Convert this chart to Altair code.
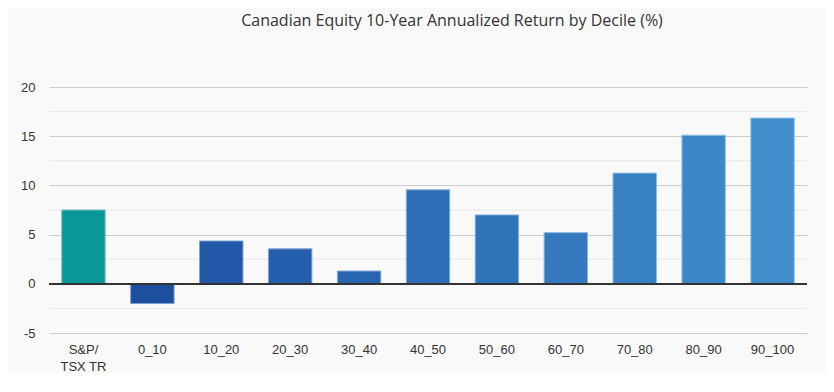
import altair as alt
import pandas as pd

categories = ["S&P/\nTSX TR", "0_10", "10_20", "20_30", "30_40", "40_50",
              "50_60", "60_70", "70_80", "80_90", "90_100"]
returns = [7.5, -2.0, 4.35, 3.55, 1.3, 9.55, 7.0, 5.2, 11.25, 15.1, 16.85]
major_ticks = [-5, 0, 5, 10, 15, 20]
minor_ticks = [-2.5, 2.5, 7.5, 12.5, 17.5]

fill_colors = ["#0a9896", "#1d4f9f", "#2157a6", "#245ead", "#2765b0", "#2c6db5",
               "#3074b9", "#3479bd", "#3780c2", "#3b87c7", "#418dcb"]
stroke_colors = ["#72c0be", "#7d9dcc", "#7fa1d0", "#80a5d2", "#82a9d5", "#86afd8",
                 "#88b3da", "#8ab6dc", "#8dbae0", "#90bfe2", "#93c3e5"]

df = pd.DataFrame({"category": categories, "value": returns})
minor_df = pd.DataFrame({"tick": minor_ticks})

y_scale = alt.Scale(domain=[-5, 20], nice=False, zero=False)
y_axis = alt.Axis(title=None, values=major_ticks,
                  labelExpr="replace(datum.label, '\u2212', '-')",
                  labelFont="Liberation Sans", labelFontSize=13, labelColor="#333333",
                  labelPadding=14, ticks=False, domain=False,
                  gridColor="#cccccc", gridWidth=1)

minor = alt.Chart(minor_df).mark_rule(color="#e6e6e6", strokeWidth=1).encode(
    y=alt.Y("tick:Q", scale=y_scale, axis=y_axis)
)

bars = alt.Chart(df).mark_bar(strokeWidth=1).encode(
    x=alt.X("category:N", sort=categories,
            scale=alt.Scale(paddingInner=0.37, paddingOuter=0.185),
            axis=alt.Axis(title=None, labelAngle=0, labelExpr="split(datum.value, '\\n')",
                          labelFont="Liberation Sans", labelFontSize=13, labelColor="#333333",
                          labelPadding=10, ticks=False, domain=False, grid=False,
                          labelLineHeight=17)),
    y=alt.Y("value:Q", scale=y_scale, axis=y_axis),
    color=alt.Color("category:N", sort=categories,
                    scale=alt.Scale(domain=categories, range=fill_colors), legend=None),
    stroke=alt.Stroke("category:N", sort=categories,
                      scale=alt.Scale(domain=categories, range=stroke_colors), legend=None),
)

zero_line = alt.Chart(df).mark_rule(color="#333333", strokeWidth=1.2).encode(
    y=alt.datum(0, scale=y_scale)
)

chart = alt.layer(minor, bars, zero_line).properties(
    width=758, height=246,
    title=alt.TitleParams("Canadian Equity 10-Year Annualized Return by Decile (%)",
                          font="Open Sans", fontSize=16, fontWeight="normal", color="#333333",
                          anchor="middle", dx=24, offset=52),
    background="#f9f9f9",
    padding={"left": 41, "top": 79, "right": 19, "bottom": 40},
    autosize=alt.AutoSizeParams(type="none"),
).configure_view(stroke=None)

chart.save("out.html", embed_options={"renderer": "svg", "actions": False})
